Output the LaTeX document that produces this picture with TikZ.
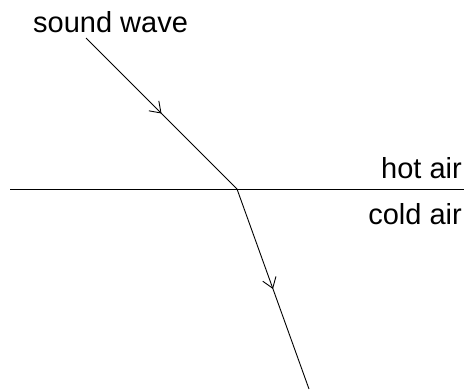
\documentclass[tikz,border=0pt]{standalone}
\usepackage{fontspec}
\setmainfont{Liberation Sans}
\usetikzlibrary{arrows.meta,decorations.markings}

\begin{document}
\begin{tikzpicture}[
  x=1pt, y=-1pt,
  every node/.style={inner sep=0pt, font=\fontsize{29}{34}\selectfont},
  ray/.style={line width=0.9pt, postaction={decorate},
     decoration={markings, mark=at position 0.5 with
       {\arrow{Straight Barb[length=10pt,width=14pt,line width=0.9pt]}}}},
  bound/.style={line width=0.9pt},
]
\useasboundingbox (0,0) rectangle (464,389);
% --- points ---
\coordinate (src) at (86,38);
\coordinate (hit) at (237,189);
\coordinate (dst) at (309,389);
\coordinate (bl)  at (10,189);
\coordinate (br)  at (464,189);
% --- labels ---
\node[anchor=base west] (wave) at (33,32)  {sound wave};
\node[anchor=base east] (hot)  at (462,178) {hot air};
\node[anchor=base east] (cold) at (462,224) {cold air};
% --- boundary and rays ---
\draw[bound] (bl) -- (br);
\draw[ray] (src) -- (hit);
\draw[ray] (hit) -- (dst);
\end{tikzpicture}
\end{document}
